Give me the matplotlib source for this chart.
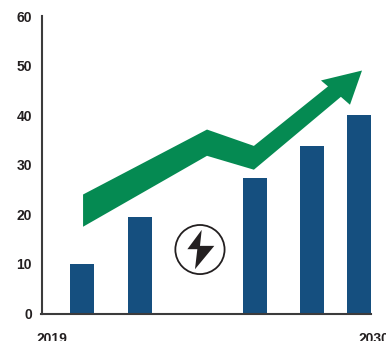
import matplotlib
matplotlib.use('Agg')
import matplotlib.pyplot as plt
from matplotlib.patches import Ellipse, Polygon

# bars
bar_years = [2020.03, 2022.0, 2025.93, 2027.87, 2029.48]
bar_values = [10, 19.5, 27.3, 33.8, 40]

# growth arrow outline
arrow_x = [2020.06, 2024.29, 2025.89, 2028.42, 2028.18, 2029.58, 2029.17, 2028.86, 2025.89, 2024.29, 2020.06]
arrow_y = [24.0, 37.1, 33.8, 45.8, 47.0, 49.0, 42.1, 43.7, 29.0, 31.8, 17.5]

# lightning bolt icon
bolt_x = [2024.11, 2023.62, 2023.96, 2023.88, 2024.54, 2024.05]
bolt_y = [16.87, 12.97, 12.97, 8.93, 13.64, 13.64]

y_ticks = [0, 10, 20, 30, 40, 50, 60]
x_ticks = [2019, 2030]

plt.rcParams['font.family'] = ['Liberation Sans', 'DejaVu Sans']
plt.rcParams['font.weight'] = 'bold'

W, H = 386, 341
fig = plt.figure(figsize=(W / 100, H / 100), dpi=100)
ax = fig.add_axes([41.5 / W, (H - 313.5) / H, (W - 41.5) / W, (313.5 - 16) / H])

ax.bar(bar_years, bar_values, width=0.82, color='#154f7f', zorder=2)
ax.add_patch(Polygon(list(zip(arrow_x, arrow_y)), closed=True, color='#058a52', lw=0, zorder=3))

ax.add_patch(Ellipse((2024.05, 12.9), 1.68, 9.9, fill=False, ec='#231f20', lw=1.3, zorder=3))
ax.add_patch(Polygon(list(zip(bolt_x, bolt_y)), closed=True, color='#231f20', lw=0, zorder=3))

ax.set_xlim(2019 + (41.5 - 52) / 29.3, 2019 + (386 - 52) / 29.3)
ax.set_ylim(0, 60)

for s in ['top', 'right']:
    ax.spines[s].set_visible(False)
for s in ['left', 'bottom']:
    ax.spines[s].set_color('#3c3b3c')
    ax.spines[s].set_linewidth(1.5)
    ax.spines[s].set_zorder(4)
ax.spines['bottom'].set_bounds(ax.get_xlim()[0], 2019 + (371.5 - 52) / 29.3)

ax.set_yticks(y_ticks)
ax.set_xticks(x_ticks)
ax.set_xticklabels(['2019', '2030'], color='#231f20', fontsize=10)
ax.set_yticklabels([str(t) for t in y_ticks], color='#231f20', fontsize=10)
ax.tick_params(axis='y', length=0, pad=7)
ax.tick_params(axis='x', length=0, pad=13)

fig.savefig('out.png', dpi=100)
